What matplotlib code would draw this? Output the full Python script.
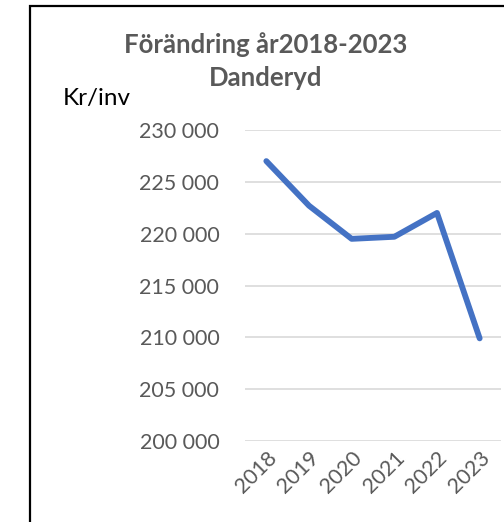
import matplotlib
matplotlib.use('Agg')
from matplotlib import pyplot as plt
from matplotlib.patches import Rectangle

years = ['2018', '2019', '2020', '2021', '2022', '2023']
kr_per_inv = [227000, 222700, 219500, 219700, 222000, 209900]
y_ticks = [200000, 205000, 210000, 215000, 220000, 225000, 230000]

plt.rcParams['font.family'] = ['Lato', 'DejaVu Sans']

fig = plt.figure(figsize=(5.04, 5.22), dpi=100)
ax = fig.add_axes([245 / 504, 1 - 441 / 522, 256 / 504, 311 / 522])

x = range(len(years))
ax.plot(x, kr_per_inv, color='#4472C4', lw=4.2, solid_capstyle='round', solid_joinstyle='round')

ax.set_xlim(-0.5, len(years) - 0.5)
ax.set_ylim(200000, 230000)
ax.set_yticks(y_ticks)
ax.set_yticklabels([f'{v:,.0f}'.replace(',', ' ') for v in y_ticks])
ax.set_xticks(list(x))
ax.set_xticklabels(years, rotation=45, ha='right', va='top', rotation_mode='anchor')
ax.grid(axis='y', color='#D9D9D9', lw=1.2)
ax.set_axisbelow(True)
for s in ax.spines.values():
    s.set_visible(False)
ax.tick_params(axis='both', length=0, labelsize=15.5, colors='#595959')
ax.tick_params(axis='y', pad=18.5)
ax.tick_params(axis='x', pad=5)

fig.text(266 / 504, 1 - 45 / 522, 'Förändring år2018-2023', ha='center', va='center',
         fontsize=18.5, fontweight='bold', color='#595959')
fig.text(266 / 504, 1 - 78 / 522, 'Danderyd', ha='center', va='center',
         fontsize=18.5, fontweight='bold', color='#595959')
fig.text(63 / 504, 1 - 99 / 522, 'Kr/inv', ha='left', va='center', fontsize=17.5, color='black')

# chart frame (cropped on the right and bottom)
fig.patches.append(Rectangle((29.5 / 504, -0.1), 1.2, 1.1 - 5.5 / 522, transform=fig.transFigure,
                             fill=False, edgecolor='black', lw=1.6))

fig.savefig('out.png', dpi=100)
